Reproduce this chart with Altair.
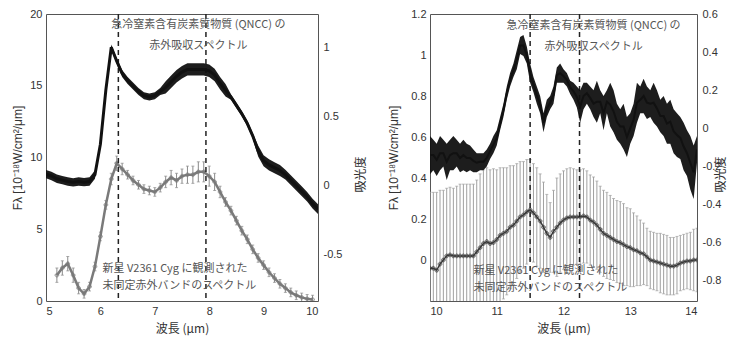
import altair as alt
import pandas as pd

# ---------------- left panel (5-10 um) ----------------
l_qncc_x = [5.0, 5.1, 5.2, 5.3, 5.4, 5.5, 5.6, 5.7, 5.8, 5.9,
            6.0, 6.1, 6.2, 6.3, 6.4, 6.5, 6.6, 6.7, 6.8, 6.9,
            7.0, 7.1, 7.2, 7.3, 7.4, 7.5, 7.6, 7.7, 7.8, 7.9,
            8.0, 8.1, 8.2, 8.3, 8.4, 8.5, 8.6, 8.7, 8.8, 8.9,
            9.0, 9.1, 9.2, 9.3, 9.4, 9.5, 9.6, 9.7, 9.8, 9.9, 10.0]
l_qncc_c = [0.084, 0.07, 0.05, 0.04, 0.03, 0.024, 0.03, 0.025, 0.03, 0.08,
            0.30, 0.69, 1.00, 0.90, 0.81, 0.76, 0.72, 0.68, 0.65, 0.64,
            0.65, 0.68, 0.71, 0.75, 0.79, 0.82, 0.84, 0.84, 0.84, 0.84,
            0.83, 0.80, 0.74, 0.69, 0.64, 0.58, 0.52, 0.45, 0.36, 0.25,
            0.18, 0.15, 0.13, 0.11, 0.08, 0.04, 0.0, -0.04, -0.08, -0.13, -0.17]
l_qncc_h = [0.03] * 10 + [0.02] * 4 + [0.025] * 8 + [0.045] * 12 + [0.02] * 5 + [0.04] * 5 + [0.035] * 7

l_nova_x = [5.2, 5.3, 5.4, 5.5, 5.6, 5.7, 5.8, 5.9,
            6.0, 6.1, 6.2, 6.3, 6.4, 6.5, 6.6, 6.7, 6.8, 6.9,
            7.0, 7.1, 7.2, 7.3, 7.4, 7.5, 7.6, 7.7, 7.8, 7.9,
            8.0, 8.1, 8.2, 8.3, 8.4, 8.5, 8.6, 8.7, 8.8, 8.9,
            9.0, 9.1, 9.2, 9.3, 9.4, 9.5, 9.6, 9.7, 9.8, 9.9]
l_nova_y = [1.8, 2.3, 2.6, 1.8, 0.9, 0.5, 1.0, 2.4,
            4.5, 6.7, 8.5, 9.6, 9.2, 8.8, 8.4, 8.1, 7.8, 7.7,
            7.6, 7.9, 8.3, 8.6, 8.4, 8.7, 8.8, 8.8, 9.0, 9.0,
            8.7, 8.3, 7.6, 6.9, 6.3, 5.6, 4.9, 4.3, 3.6, 3.0,
            2.5, 2.0, 1.6, 1.2, 0.9, 0.6, 0.4, 0.25, 0.15, 0.1]
l_nova_err = [0.5, 0.5, 0.5, 0.5,
              0.4, 0.3, 0.3, 0.3, 0.3, 0.3,
              0.4, 0.5, 0.4, 0.3, 0.3, 0.3, 0.3, 0.3, 0.3, 0.3,
              0.4, 0.5, 0.5, 0.5, 0.6, 0.6, 0.7, 0.7, 0.7, 0.6, 0.4] + [0.3] * 17
l_dash = [6.33, 7.94]

# ---------------- right panel (10-14 um) ----------------
r_x = [round(10 + 0.05 * i, 2) for i in range(81)]
r_qncc_hi = [-0.04, -0.06, -0.08, -0.04, -0.06, -0.08, -0.06, -0.04, -0.06, -0.08,
             -0.06, -0.08, -0.09, -0.11, -0.13, -0.13, -0.13, -0.11, -0.08, -0.04,
             -0.01, 0.06, 0.13, 0.22, 0.29, 0.34, 0.41, 0.48, 0.49, 0.43,
             0.34, 0.27, 0.22, 0.17, 0.08, 0.15, 0.17, 0.22, 0.32, 0.34,
             0.31, 0.29, 0.25, 0.24, 0.22, 0.20, 0.24, 0.24, 0.22, 0.20,
             0.25, 0.20, 0.17, 0.20, 0.24, 0.20, 0.13, 0.10, 0.13, 0.06,
             0.08, 0.13, 0.24, 0.22, 0.26, 0.22, 0.20, 0.24, 0.20, 0.15,
             0.17, 0.13, 0.15, 0.10, 0.08, 0.06, 0.03, -0.01, -0.04, -0.09,
             -0.04]
r_qncc_lo = [-0.24, -0.22, -0.25, -0.22, -0.20, -0.27, -0.22, -0.22, -0.20, -0.23,
             -0.22, -0.23, -0.22, -0.23, -0.23, -0.22, -0.22, -0.20, -0.16, -0.13,
             -0.09, -0.01, 0.06, 0.15, 0.22, 0.27, 0.31, 0.39, 0.38, 0.34,
             0.24, 0.19, 0.13, 0.08, -0.02, 0.06, 0.10, 0.13, 0.24, 0.24,
             0.24, 0.22, 0.18, 0.15, 0.11, 0.03, 0.10, 0.13, 0.10, 0.06,
             0.03, 0.08, -0.01, 0.08, 0.01, -0.02, -0.06, -0.08, -0.11, -0.15,
             -0.08, -0.04, 0.03, 0.08, 0.08, 0.05, 0.06, 0.03, 0.01, -0.02,
             -0.04, -0.08, -0.08, -0.13, -0.15, -0.16, -0.22, -0.25, -0.32, -0.37,
             -0.18]
r_nova_y = [-0.04, -0.04, -0.05, -0.02, 0.00, 0.02, 0.025, 0.02, 0.02, 0.02,
            0.02, 0.02, 0.02, 0.02, 0.04, 0.06, 0.08, 0.09, 0.08, 0.085,
            0.10, 0.12, 0.13, 0.14, 0.16, 0.17, 0.19, 0.21, 0.22, 0.235,
            0.245, 0.23, 0.21, 0.19, 0.16, 0.13, 0.11, 0.14, 0.16, 0.18,
            0.195, 0.205, 0.21, 0.21, 0.21, 0.21, 0.215, 0.21, 0.195, 0.185,
            0.17, 0.15, 0.13, 0.12, 0.11, 0.10, 0.09, 0.085, 0.075, 0.065,
            0.06, 0.05, 0.045, 0.035, 0.03, 0.015, 0.0, -0.005, -0.01, -0.015,
            -0.02, -0.025, -0.03, -0.03, -0.025, -0.015, -0.01, -0.005, -0.005, 0.0,
            0.0]
r_nova_err = [0.37, 0.37, 0.38, 0.36, 0.34, 0.33, 0.33, 0.33, 0.34, 0.35,
              0.35, 0.35, 0.35, 0.35, 0.35, 0.36, 0.36, 0.36, 0.36, 0.36,
              0.34, 0.33, 0.32, 0.31, 0.30, 0.29, 0.28, 0.27, 0.26, 0.255,
              0.245, 0.24, 0.24, 0.23, 0.22, 0.19, 0.17, 0.20, 0.24, 0.24,
              0.24, 0.24, 0.24, 0.235, 0.23, 0.23, 0.23, 0.225, 0.22, 0.22,
              0.215, 0.21, 0.21, 0.21, 0.205, 0.20, 0.20, 0.20, 0.20, 0.19,
              0.19, 0.18, 0.17, 0.16, 0.15, 0.14, 0.14, 0.14, 0.14, 0.145,
              0.145, 0.145, 0.14, 0.14, 0.14, 0.135, 0.135, 0.135, 0.14, 0.15,
              0.155]
r_dash = [11.5, 12.24]

txt_qncc = ["急冷窒素含有炭素質物質 (QNCC) の", "赤外吸収スペクトル"]
txt_nova = ["新星 V2361 Cyg に観測された", "未同定赤外バンドのスペクトル"]

JP = "Noto Sans CJK JP"
LAT = "Liberation Sans"
MINUS_FIX = "replace(datum.label, '\u2212', '-')"
FLUX_TITLE = "Fλ [10⁻¹⁸W/cm²/μm]"


def panel(xdom, xvals, yl_dom, yl_vals, yr_dom, yr_vals,
          qncc_x, qncc_lo, qncc_hi, nova_x, nova_y, nova_err, dash,
          top_xy, bot_xy, w, h, style, yl_tx, yr_tx, yr_title_y=None):
    X = alt.X("x:Q", scale=alt.Scale(domain=xdom, nice=False, zero=False),
              axis=alt.Axis(values=xvals, title="波長 (μm)", format="d"))
    yl_scale = alt.Scale(domain=yl_dom, nice=False, zero=False)
    yr_scale = alt.Scale(domain=yr_dom, nice=False, zero=False)
    yl_axis = alt.Axis(values=yl_vals, title=FLUX_TITLE, format="~g",
                       labelExpr=MINUS_FIX, titleFont=LAT, orient="left",
                       titleX=yl_tx)

    nova = pd.DataFrame({"x": nova_x, "y": nova_y,
                         "lo": [v - e for v, e in zip(nova_y, nova_err)],
                         "hi": [v + e for v, e in zip(nova_y, nova_err)]})
    qncc = pd.DataFrame({"x": qncc_x, "lo": qncc_lo, "hi": qncc_hi,
                         "c": [(a + b) / 2 for a, b in zip(qncc_lo, qncc_hi)]})
    dash_df = pd.DataFrame({"x": dash})
    top_df = pd.DataFrame({"x": [top_xy[0]] * 2, "y": top_xy[1:], "t": txt_qncc})
    bot_df = pd.DataFrame({"x": [bot_xy[0]] * 2, "y": bot_xy[1:], "t": txt_nova})

    def YL(field):
        return alt.Y(field, scale=yl_scale, axis=yl_axis, title=FLUX_TITLE)

    err = alt.Chart(nova).mark_rule(color=style["err"], strokeWidth=1, clip=True).encode(
        x=X, y=YL("lo:Q"), y2="hi:Q")
    cap_hi = alt.Chart(nova).mark_tick(orient="horizontal", size=3, thickness=1,
                                       color=style["err"], clip=True).encode(
        x=X, y=YL("hi:Q"))
    cap_lo = alt.Chart(nova).mark_tick(orient="horizontal", size=3, thickness=1,
                                       color=style["err"], clip=True).encode(
        x=X, y=YL("lo:Q"))
    line = alt.Chart(nova).mark_line(color=style["line"], strokeWidth=style["w"],
                                     clip=True).encode(x=X, y=YL("y:Q"))
    pts = alt.Chart(nova).mark_point(color=style["line"], size=14, shape="cross",
                                     strokeWidth=1, clip=True).encode(x=X, y=YL("y:Q"))
    dashed = alt.Chart(dash_df).mark_rule(color="#222", strokeWidth=1.5,
                                          strokeDash=[5, 4]).encode(x=X)
    top_t = alt.Chart(top_df).mark_text(font=JP, fontSize=11, color="#555",
                                        align="center", baseline="middle").encode(
        x=X, y=YL("y:Q"), text="t:N")
    bot_t = alt.Chart(bot_df).mark_text(font=JP, fontSize=11, color="#555",
                                        align="left", baseline="middle").encode(
        x=X, y=YL("y:Q"), text="t:N")
    left_group = alt.layer(err, cap_hi, cap_lo, line, pts, dashed, top_t, bot_t)

    yr_axis_kw = dict(orient="right", values=yr_vals, title="吸光度", format="~g",
                      labelExpr=MINUS_FIX, titleAngle=270, titleX=yr_tx,
                      labelPadding=5)
    if yr_title_y is not None:
        yr_axis_kw["titleY"] = yr_title_y
    yr_axis = alt.Axis(**yr_axis_kw)
    band = alt.Chart(qncc).mark_area(color="#111", opacity=0.95, clip=True).encode(
        x=X, y=alt.Y("lo:Q", scale=yr_scale, axis=yr_axis, title="吸光度"), y2="hi:Q")
    cline = alt.Chart(qncc).mark_line(color="#111", strokeWidth=style["bw"], clip=True).encode(
        x=X, y=alt.Y("c:Q", scale=yr_scale, axis=yr_axis, title="吸光度"))
    right_group = alt.layer(band, cline)

    return alt.layer(left_group, right_group).resolve_scale(y="independent").properties(
        width=w, height=h)


left = panel([5, 10], [5, 6, 7, 8, 9, 10], [0, 20], [0, 5, 10, 15, 20],
             [-0.833, 1.24], [-0.5, 0, 0.5, 1],
             l_qncc_x, [c - hh for c, hh in zip(l_qncc_c, l_qncc_h)],
             [c + hh for c, hh in zip(l_qncc_c, l_qncc_h)],
             l_nova_x, l_nova_y, l_nova_err, l_dash,
             (7.8, 19.2, 17.8), (6.04, 2.24, 1.05), 272, 287,
             {"err": "#8a8a8a", "line": "#7a7a7a", "w": 2.5, "bw": 3},
             yl_tx=-22, yr_tx=49, yr_title_y=160)

right = panel([10, 14], [10, 11, 12, 13, 14], [-0.2, 1.2],
              [0, 0.2, 0.4, 0.6, 0.8, 1, 1.2],
              [-0.905, 0.6], [-0.8, -0.6, -0.4, -0.2, 0, 0.2, 0.4, 0.6],
              r_x, r_qncc_lo, r_qncc_hi,
              r_x, r_nova_y, r_nova_err, r_dash,
              (12.45, 1.14, 1.04), (10.65, -0.055, -0.138), 267, 287,
              {"err": "#a0a0a0", "line": "#3a3a3a", "w": 1.5, "bw": 2},
              yl_tx=-29.5, yr_tx=30, yr_title_y=160)

chart = alt.hconcat(left, right, spacing=20).properties(
    autosize=alt.AutoSizeParams(type="none"),
    padding={"left": 38, "top": 6, "right": 681, "bottom": 316}
).configure_view(stroke="#555", strokeWidth=1).configure_axis(
    domain=False, ticks=False, grid=False,
    labelFont=LAT, labelFontSize=11, labelColor="#333", labelPadding=4,
    titleFont=JP, titleFontSize=12, titleFontWeight="normal", titleColor="#333",
    titlePadding=4
).configure_axisBottom(titlePadding=7)

chart.save("out.html", embed_options={"renderer": "svg", "actions": False})
